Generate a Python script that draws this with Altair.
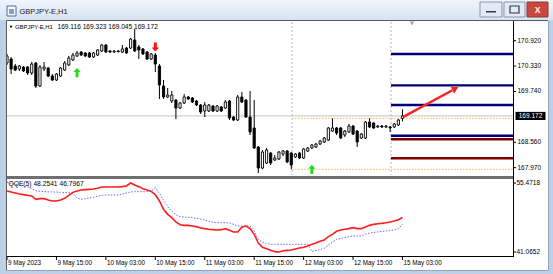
import altair as alt
import pandas as pd

# ---------------- data ----------------
symbol = "GBPJPY-E,H1"
opens = [170.402, 170.494, 170.332, 170.262, 170.309, 170.309, 170.169, 170.402, 169.867, 170.262,
         170.285, 170.100, 170.007, 170.100, 170.239, 170.355, 170.471, 170.564, 170.657, 170.634,
         170.634, 170.541, 170.587, 170.680, 170.820, 170.680, 170.657, 170.680, 170.657, 170.750,
         170.750, 170.936, 170.773, 170.727, 170.657, 170.494, 170.587, 170.332, 169.867, 169.612,
         169.519, 169.542, 169.356, 169.472, 169.612, 169.588, 169.519, 169.426, 169.286, 169.286,
         169.403, 169.286, 169.379, 169.356, 169.519, 169.147, 169.077, 169.612, 169.542, 169.147,
         168.892, 168.450, 167.962, 168.078, 168.311, 168.148, 168.171, 168.288, 168.357, 168.311,
         168.218, 168.311, 168.195, 168.357, 168.427, 168.450, 168.520, 168.566, 168.613, 168.822,
         168.892, 168.892, 168.729, 168.799, 168.938, 168.822, 168.659, 168.659, 169.031, 169.008,
         168.915, 168.938, 168.915, 168.915, 168.915, 168.961, 169.116]
highs = [170.611, 170.541, 170.378, 170.355, 170.332, 170.332, 170.425, 170.425, 170.355, 170.425,
         170.309, 170.146, 170.169, 170.309, 170.448, 170.564, 170.634, 170.680, 170.680, 170.657,
         170.657, 170.657, 170.727, 170.843, 170.843, 170.704, 170.704, 170.704, 170.820, 170.773,
         170.982, 171.191, 170.820, 170.750, 170.680, 170.634, 170.634, 170.378, 170.007, 169.821,
         169.751, 169.565, 169.496, 169.681, 169.635, 169.612, 169.542, 169.449, 169.496, 169.449,
         169.426, 169.426, 169.403, 169.542, 169.542, 169.170, 169.658, 169.728, 169.565, 169.751,
         169.542, 168.473, 168.381, 168.427, 168.334, 168.264, 168.357, 168.381, 168.381, 168.334,
         168.311, 168.334, 168.427, 168.450, 168.520, 168.543, 168.613, 168.683, 168.915, 169.117,
         168.915, 168.915, 168.845, 168.985, 168.961, 168.845, 168.775, 169.054, 169.117, 169.031,
         168.961, 168.961, 168.961, 168.938, 169.008, 169.101, 169.323]
lows = [170.355, 170.146, 170.216, 170.216, 170.192, 170.123, 170.123, 169.821, 169.844, 170.216,
        170.076, 169.983, 169.983, 170.076, 170.216, 170.332, 170.448, 170.541, 170.564, 170.541,
        170.518, 170.518, 170.564, 170.657, 170.634, 170.634, 170.634, 170.650, 170.634, 170.611,
        170.727, 170.657, 170.494, 170.587, 170.471, 170.471, 170.192, 169.565, 169.565, 169.588,
        169.472, 169.101, 169.333, 169.449, 169.542, 169.472, 169.403, 169.217, 169.147, 169.263,
        169.263, 169.263, 169.263, 169.333, 169.077, 169.054, 169.054, 169.472, 169.124, 168.729,
        168.404, 167.846, 167.939, 168.055, 168.032, 168.125, 168.148, 168.241, 168.078, 167.932,
        168.195, 168.171, 168.171, 168.334, 168.404, 168.427, 168.497, 168.543, 168.590, 168.799,
        168.729, 168.636, 168.683, 168.775, 168.729, 168.450, 168.636, 168.636, 168.892, 168.868,
        168.892, 168.892, 168.892, 168.799, 168.892, 168.938, 169.045]
closes = [170.564, 170.262, 170.239, 170.332, 170.216, 170.169, 170.378, 169.867, 170.309, 170.309,
          170.100, 170.007, 170.146, 170.285, 170.402, 170.518, 170.587, 170.634, 170.587, 170.564,
          170.541, 170.634, 170.704, 170.820, 170.657, 170.657, 170.680, 170.664, 170.727, 170.634,
          170.959, 170.680, 170.704, 170.611, 170.494, 170.611, 170.378, 169.890, 169.612, 169.658,
          169.658, 169.356, 169.472, 169.612, 169.565, 169.496, 169.426, 169.263, 169.426, 169.426,
          169.286, 169.403, 169.286, 169.496, 169.124, 169.077, 169.612, 169.496, 169.147, 168.799,
          168.427, 167.962, 168.334, 168.381, 168.078, 168.195, 168.334, 168.357, 168.102, 168.032,
          168.288, 168.195, 168.404, 168.427, 168.497, 168.520, 168.590, 168.659, 168.892, 168.892,
          168.775, 168.659, 168.822, 168.938, 168.752, 168.566, 168.752, 169.031, 168.915, 168.892,
          168.938, 168.915, 168.938, 168.892, 168.985, 169.077, 169.172]

qqe_rsi = [53.80, 53.59, 53.38, 53.18, 53.04, 52.90, 52.76, 52.06, 52.20, 52.20,
           51.92, 51.71, 51.71, 51.92, 52.27, 52.90, 53.52, 53.80, 54.01, 54.08,
           54.15, 54.22, 54.36, 54.64, 54.64, 54.64, 54.64, 54.64, 54.71, 54.85,
           55.47, 55.05, 54.71, 54.29, 54.01, 53.73, 53.04, 51.71, 49.97, 48.93,
           48.23, 47.33, 46.77, 46.63, 46.63, 46.49, 46.36, 46.08, 45.94, 45.80,
           45.73, 45.66, 45.73, 45.94, 45.59, 45.24, 45.24, 46.22, 46.49, 45.94,
           44.75, 42.94, 42.04, 41.76, 41.41, 41.14, 41.07, 41.34, 41.41, 41.48,
           41.69, 41.90, 42.04, 42.32, 42.67, 42.94, 43.29, 43.57, 44.27, 44.75,
           45.38, 45.66, 45.80, 45.94, 46.15, 45.94, 45.94, 46.29, 46.63, 46.84,
           46.98, 47.05, 47.19, 47.33, 47.54, 47.82, 48.25]
qqe_trail = [55.60, 55.40, 55.19, 55.05, 54.91, 54.71, 54.29, 53.87, 53.73, 53.66,
             53.63, 53.59, 53.59, 53.52, 53.45, 53.45, 53.31, 52.34, 52.06, 52.20,
             52.34, 52.48, 52.76, 52.90, 52.97, 52.97, 52.97, 52.97, 53.18, 53.38,
             53.59, 53.66, 53.66, 53.66, 53.66, 53.80, 54.50, 53.31, 51.92, 50.53,
             49.56, 48.86, 48.44, 48.37, 48.30, 48.23, 48.09, 47.96, 47.75, 47.47,
             47.26, 47.19, 47.19, 47.19, 47.12, 46.84, 46.49, 46.49, 46.49, 46.49,
             45.45, 43.71, 43.15, 42.80, 42.67, 42.67, 42.67, 42.67, 42.67, 42.67,
             42.67, 42.67, 42.67, 42.67, 41.20, 41.41, 41.55, 41.83, 42.53, 43.15,
             43.71, 43.92, 44.06, 44.27, 44.41, 44.41, 44.41, 44.75, 45.03, 45.17,
             45.24, 45.38, 45.45, 45.59, 45.66, 45.94, 46.80]

price_ticks = [170.920, 170.330, 169.740, 168.560, 167.970]
bid_price = 169.172
indicator_ticks = [55.4718, 41.0652]
time_bars = [0, 12, 24, 36, 48, 60, 72, 84, 96]
time_labels = ["9 May 2023", "9 May 15:00", "10 May 03:00", "10 May 15:00", "11 May 03:00",
               "11 May 15:00", "12 May 03:00", "12 May 15:00", "15 May 03:00"]
levels_navy = [170.611, 169.883, 169.426, 168.713]
levels_maroon = [168.629, 168.188]
levels_start_bar = 93.2
range_prices = [169.117, 167.932]
range_start_bar = 69.2
separator_bars = [69.2, 93.2]
buy_bars = [17, 74]
buy_prices = [170.18, 167.93]
sell_bars = [36]
sell_prices = [170.773]
trend_bars = [96.2, 108.1]
trend_prices = [169.15, 169.77]
trend_head = (108.6, 169.795)
indicator_title = "QQE(5) 48.2541 46.7967"

# ---------------- scales ----------------
LAST_BAR_VIEW = 122.82
FONT = "Liberation Sans"
XS = alt.Scale(domain=[0, LAST_BAR_VIEW], range=[7, 513], nice=False, zero=False, padding=0)
YP = alt.Scale(domain=[167.80, 171.354], range=[175, 22], nice=False, zero=False, padding=0)
YI = alt.Scale(domain=[41.0652, 55.4718], range=[252, 183], nice=False, zero=False, padding=0)


def X(f):
    return alt.X(f, scale=XS, axis=None)


def Y(f):
    return alt.Y(f, scale=YP, axis=None)


def YQ(f):
    return alt.Y(f, scale=YI, axis=None)


one = pd.DataFrame({"k": [0]})


def box(x, x2, y, y2, fill, stroke=None, sw=1.0):
    kw = dict(fill=fill)
    if stroke:
        kw.update(stroke=stroke, strokeWidth=sw)
    else:
        kw.update(strokeWidth=0)
    return alt.Chart(one).mark_rect(**kw).encode(
        x=alt.value(x), x2=alt.value(x2), y=alt.value(y), y2=alt.value(y2))


def hline(x, x2, y, color, sw=1.0):
    return alt.Chart(one).mark_rule(color=color, strokeWidth=sw).encode(
        x=alt.value(x), x2=alt.value(x2), y=alt.value(y))


def vline(x, y, y2, color, sw=1.0):
    return alt.Chart(one).mark_rule(color=color, strokeWidth=sw).encode(
        x=alt.value(x), y=alt.value(y), y2=alt.value(y2))


def label(x, y, text, size=6.5, color="black", align="left", weight="normal"):
    return alt.Chart(one).mark_text(align=align, baseline="middle", font=FONT, fontSize=size,
                                    color=color, fontWeight=weight).encode(
        x=alt.value(x), y=alt.value(y), text=alt.value(text))


layers = []

# window chrome
layers.append(box(0, 553, 0, 274, "#bcd0e8"))
layers.append(alt.Chart(one).mark_rect(
    fill=alt.Gradient(gradient="linear",
                      stops=[alt.GradientStop(color="#f1f5fb", offset=0),
                             alt.GradientStop(color="#d7e3f2", offset=1)],
                      x1=0, x2=0, y1=0, y2=1),
    strokeWidth=0).encode(x=alt.value(0), x2=alt.value(553), y=alt.value(0), y2=alt.value(20)))
layers.append(box(7, 548, 21, 270, "white"))
layers.append(box(7, 16, 6, 16, "#f7f9fc", "#4d6f9c", 1))
layers.append(box(9, 14, 9, 14, "#7fa3d1"))
layers.append(label(19.5, 11.5, symbol, size=7.5, color="#1a1a1a"))
layers.append(box(480, 502, 2, 17, "#e3eaf4", "#8598b3", 1))
layers.append(box(486, 496, 11, 12.5, "#2d3b4f"))
layers.append(box(504, 525, 2, 17, "#e3eaf4", "#8598b3", 1))
layers.append(box(510, 519, 6, 13, "none", "#2d3b4f", 1.2))
layers.append(box(527, 548, 2, 17, "#c9473c", "#8a3a33", 1))
layers.append(label(537.5, 9.8, "X", size=8.5, color="white", align="center", weight="bold"))

# reference lines in the price panel
layers.append(alt.Chart(pd.DataFrame({"p": [bid_price]})).mark_rule(
    color="#cfcfcf", strokeWidth=1.3).encode(x=alt.value(7), x2=alt.value(513), y=Y("p:Q")))
layers.append(alt.Chart(pd.DataFrame({"bar": separator_bars})).mark_rule(
    color="#b5b5b5", strokeWidth=1, strokeDash=[2, 2]).encode(
    x=X("bar:Q"), y=alt.value(22), y2=alt.value(175)))
layers.append(alt.Chart(pd.DataFrame({"p": range_prices, "s": range_start_bar, "e": LAST_BAR_VIEW}))
              .mark_rule(color="#ffb24a", strokeWidth=1, strokeDash=[1.5, 1.5])
              .encode(x=X("s:Q"), x2="e:Q", y=Y("p:Q")))

# candles
candles = pd.DataFrame({"bar": list(range(len(opens))), "open": opens, "high": highs,
                        "low": lows, "close": closes})
layers.append(alt.Chart(candles).mark_rule(color="black", strokeWidth=1).encode(
    x=X("bar:Q"), y=Y("low:Q"), y2="high:Q"))
layers.append(alt.Chart(candles).transform_filter("datum.close >= datum.open").mark_bar(
    size=2.2, fill="white", stroke="black", strokeWidth=0.9).encode(
    x=X("bar:Q"), y=Y("open:Q"), y2="close:Q"))
layers.append(alt.Chart(candles).transform_filter("datum.close < datum.open").mark_bar(
    size=2.2, fill="black", stroke="black", strokeWidth=0.9).encode(
    x=X("bar:Q"), y=Y("open:Q"), y2="close:Q"))

# order levels
lv = pd.DataFrame({"p": levels_navy + levels_maroon,
                   "c": ["#00007a"] * len(levels_navy) + ["#7a0000"] * len(levels_maroon),
                   "s": levels_start_bar, "e": LAST_BAR_VIEW})
layers.append(alt.Chart(lv).mark_rule(strokeWidth=2.4).encode(
    x=X("s:Q"), x2="e:Q", y=Y("p:Q"), color=alt.Color("c:N", scale=None, legend=None)))

# arrows
UP = "M0,-1L0.8,-0.12L0.32,-0.12L0.32,1L-0.32,1L-0.32,-0.12L-0.8,-0.12Z"
DOWN = "M0,1L0.8,0.12L0.32,0.12L0.32,-1L-0.32,-1L-0.32,0.12L-0.8,0.12Z"
layers.append(alt.Chart(pd.DataFrame({"bar": buy_bars, "p": buy_prices})).mark_point(
    shape=UP, size=85, filled=True, color="#22dd22", opacity=1, strokeWidth=0).encode(
    x=X("bar:Q"), y=Y("p:Q")))
layers.append(alt.Chart(pd.DataFrame({"bar": sell_bars, "p": sell_prices})).mark_point(
    shape=DOWN, size=85, filled=True, color="#ff1010", opacity=1, strokeWidth=0).encode(
    x=X("bar:Q"), y=Y("p:Q")))
layers.append(alt.Chart(pd.DataFrame({"bar": trend_bars, "p": trend_prices})).mark_line(
    color="#ff2020", strokeWidth=2.4).encode(x=X("bar:Q"), y=Y("p:Q")))
layers.append(alt.Chart(pd.DataFrame({"bar": [trend_head[0]], "p": [trend_head[1]]})).mark_point(
    shape="triangle", angle=62, size=60, filled=True, color="#ff2020", opacity=1).encode(
    x=X("bar:Q"), y=Y("p:Q")))

# indicator
ind = pd.DataFrame({"bar": list(range(len(qqe_rsi))), "rsi": qqe_rsi, "trail": qqe_trail})
layers.append(alt.Chart(ind).mark_line(color="#6a6aff", strokeWidth=1, strokeDash=[1.5, 1.5]).encode(
    x=X("bar:Q"), y=YQ("trail:Q")))
layers.append(alt.Chart(ind).mark_line(color="#ff1c1c", strokeWidth=1.6).encode(
    x=X("bar:Q"), y=YQ("rsi:Q")))

# frame / borders (drawn over data)
layers.append(box(0, 6.5, 21, 274, "#bcd0e8"))
layers.append(vline(6.5, 20.5, 270, "#5a5a5a"))
layers.append(hline(6.5, 548, 20.5, "#5a5a5a"))
layers.append(vline(513.5, 21, 257, "black"))
layers.append(box(7, 513, 176, 179, "#6f6f6f"))
layers.append(hline(7, 513.5, 256.5, "black"))
layers.append(vline(548.5, 21, 270, "#8ea4bf"))
layers.append(hline(6.5, 548.5, 270.5, "#8ea4bf"))
layers.append(alt.Chart(one).mark_point(shape="triangle-down", filled=True, color="#a8a8a8",
                                        size=22, opacity=1).encode(x=alt.value(412), y=alt.value(23.5)))

# price axis
pt = pd.DataFrame({"p": price_ticks})
layers.append(alt.Chart(pt).mark_rule(color="black").encode(
    x=alt.value(513), x2=alt.value(516), y=Y("p:Q")))
layers.append(alt.Chart(pt).mark_text(align="left", baseline="middle", font=FONT, fontSize=6.5,
                                      color="black").encode(
    x=alt.value(517.5), y=Y("p:Q"), text=alt.Text("p:Q", format=".3f")))
PRICE_BOX = "M-1,-0.27L1,-0.27L1,0.27L-1,0.27Z"
bd = pd.DataFrame({"p": [bid_price]})
layers.append(alt.Chart(bd).mark_point(shape=PRICE_BOX, size=900, filled=True, color="black",
                                       opacity=1).encode(x=alt.value(530.5), y=Y("p:Q")))
layers.append(alt.Chart(bd).mark_text(align="center", baseline="middle", font=FONT, fontSize=6.5,
                                      color="white").encode(
    x=alt.value(530.5), y=Y("p:Q"), text=alt.Text("p:Q", format=".3f")))

# indicator axis
it = pd.DataFrame({"v": indicator_ticks})
layers.append(alt.Chart(it).mark_rule(color="black").encode(
    x=alt.value(513), x2=alt.value(516), y=YQ("v:Q")))
layers.append(alt.Chart(it).mark_text(align="left", baseline="middle", font=FONT, fontSize=6.5,
                                      color="black").encode(
    x=alt.value(516.5), y=YQ("v:Q"), text=alt.Text("v:Q", format=".4f")))

# time axis
tl = pd.DataFrame({"bar": time_bars, "t": time_labels})
layers.append(alt.Chart(tl).mark_rule(color="black").encode(
    x=X("bar:Q"), y=alt.value(256.5), y2=alt.value(260)))
layers.append(alt.Chart(tl).mark_text(align="left", baseline="middle", font=FONT, fontSize=6.3,
                                      color="black", dx=1).encode(
    x=X("bar:Q"), y=alt.value(263), text="t:N"))

# panel titles
layers.append(alt.Chart(one).mark_point(shape="triangle-down", filled=True, color="black",
                                        size=9, opacity=1).encode(x=alt.value(11), y=alt.value(27)))
layers.append(label(15, 27, symbol, size=5.9))
ohlc_text = f"{opens[-1]:.3f} {highs[-1]:.3f} {lows[-1]:.3f} {closes[-1]:.3f}"
layers.append(label(57.5, 27, ohlc_text, size=6.6))
layers.append(label(8.5, 183.5, indicator_title, size=6.7))

chart = alt.layer(*layers).resolve_scale(x="independent", y="independent").properties(
    width=553, height=274, padding=0, autosize=alt.AutoSizeParams(type="none"),
    background="#bcd0e8"
).configure_view(stroke=None)

chart.save("out.html", embed_options={"renderer": "svg", "actions": False})
